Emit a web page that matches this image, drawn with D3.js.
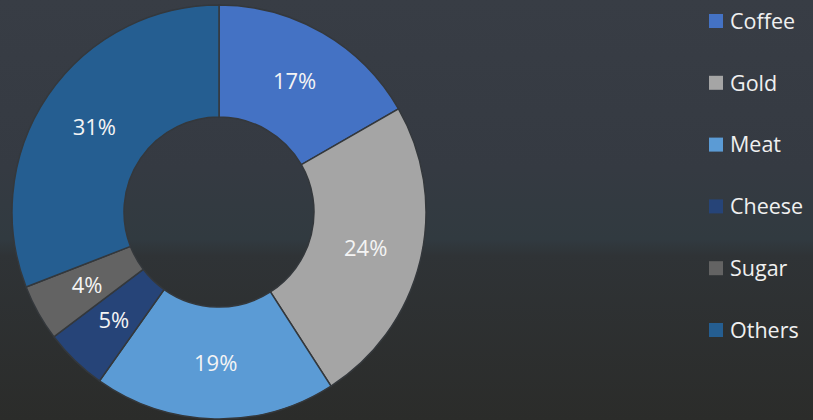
<!DOCTYPE html>
<html>
<head>
<meta charset="utf-8">
<script src="https://cdn.jsdelivr.net/npm/d3@7"></script>
<style>
  html, body { margin: 0; padding: 0; background: #33383d; }
  svg { display: block; }
</style>
</head>
<body>
<div id="chart"></div>
<script>
// data
const categories = ["Coffee", "Gold", "Meat", "Cheese", "Sugar", "Others"];
const shares = [16.7, 24.2, 18.9, 4.9, 4.4, 30.9];
const pctLabels = ["17%", "24%", "19%", "5%", "4%", "31%"];

const colors = ["#4472c4", "#a5a5a5", "#5b9bd5", "#264478", "#636363", "#255e91"];

function init() {
    const w = 813;
    const h = 420;

    const svg = d3.select("#chart")
        .append("svg")
        .attr("width", w)
        .attr("height", h);

    // dark photo-ish background
    const grad = svg.append("defs").append("linearGradient")
        .attr("id", "bg")
        .attr("x1", 0).attr("y1", 0).attr("x2", 0).attr("y2", 1);
    grad.append("stop").attr("offset", "0%").attr("stop-color", "#383d45");
    grad.append("stop").attr("offset", "40%").attr("stop-color", "#353a42");
    grad.append("stop").attr("offset", "57%").attr("stop-color", "#313a40");
    grad.append("stop").attr("offset", "61%").attr("stop-color", "#2f3336");
    grad.append("stop").attr("offset", "100%").attr("stop-color", "#2b2c2a");
    svg.append("rect")
        .attr("width", w)
        .attr("height", h)
        .attr("fill", "url(#bg)");

    const cx = 219, cy = 212;
    const outerR = 207, innerR = 95;

    const pie = d3.pie().sort(null).value(d => d);
    const arc = d3.arc().innerRadius(innerR).outerRadius(outerR);

    const g = svg.append("g").attr("transform", `translate(${cx},${cy})`);
    const arcs = pie(shares);

    g.selectAll("path")
        .data(arcs)
        .enter()
        .append("path")
        .attr("d", arc)
        .attr("fill", (d, i) => colors[i])
        .attr("stroke", "#34383c")
        .attr("stroke-width", 1.5);

    g.selectAll("text.values")
        .data(arcs)
        .enter()
        .append("text")
        .attr("class", "values")
        .attr("transform", d => `translate(${arc.centroid(d)})`)
        .attr("text-anchor", "middle")
        .attr("dy", "0.36em")
        .attr("font-family", "'Open Sans', 'Noto Sans', sans-serif")
        .attr("font-size", "22px")
        .attr("fill", "#f4f4f4")
        .text((d, i) => pctLabels[i]);

    // legend
    const legendY = d3.scalePoint()
        .domain(categories)
        .range([21, 330]);

    const legend = svg.selectAll("g.legend")
        .data(categories)
        .enter()
        .append("g")
        .attr("class", "legend")
        .attr("transform", d => `translate(709,${legendY(d)})`);

    legend.append("rect")
        .attr("x", 0)
        .attr("y", -7)
        .attr("width", 14)
        .attr("height", 14)
        .attr("fill", (d, i) => colors[i]);

    legend.append("text")
        .attr("x", 21)
        .attr("dy", "0.36em")
        .attr("font-family", "'Open Sans', 'Noto Sans', sans-serif")
        .attr("font-size", "21.5px")
        .attr("fill", "#f0f0f0")
        .text(d => d);
}

window.onload = init;
</script>
</body>
</html>
